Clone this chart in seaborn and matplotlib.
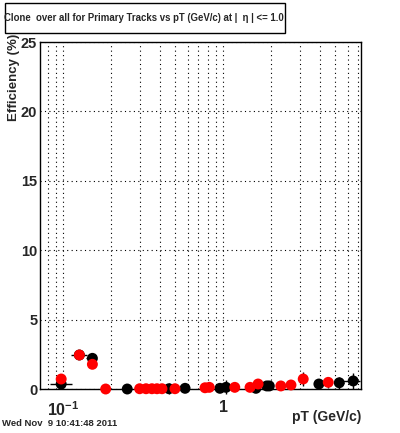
import numpy as np
import pandas as pd
import seaborn as sns
import matplotlib.pyplot as plt
from matplotlib.patches import Rectangle
from matplotlib.ticker import MultipleLocator, FixedLocator, NullFormatter

# black series (all tracks)
blk_x = [0.097, 0.126, 0.152, 0.251, 0.458, 0.577, 0.953, 1.04, 1.60, 1.87, 1.94, 3.96, 5.31, 6.49]
blk_y = [0.36, 2.45, 2.21, 0.0, 0.02, 0.05, 0.05, 0.12, 0.05, 0.22, 0.22, 0.36, 0.45, 0.58]
blk_yerr = [0.10, 0.10, 0.12, 0.0, 0.40, 0.05, 0.05, 0.50, 0.05, 0.10, 0.10, 0.38, 0.42, 0.60]
blk_xlo = [0.015, 0.015, 0.014, 0.0, 0.0, 0.0, 0.0, 0.0, 0.0, 0.0, 0.0, 0.25, 0.35, 0.9]
blk_xhi = [0.016, 0.015, 0.006, 0.0, 0.0, 0.0, 0.0, 0.0, 0.0, 0.0, 0.0, 0.25, 0.35, 0.7]

# red series
red_x = [0.097, 0.126, 0.152, 0.184, 0.30, 0.329, 0.358, 0.385, 0.414, 0.499,
         0.769, 0.818, 1.18, 1.47, 1.65, 2.29, 2.65, 3.16, 4.53]
red_y = [0.72, 2.45, 1.78, 0.0, 0.02, 0.02, 0.02, 0.02, 0.02, 0.02,
         0.09, 0.12, 0.12, 0.12, 0.36, 0.22, 0.29, 0.72, 0.48]
red_yerr = [0.15, 0.10, 0.12, 0.0, 0.0, 0.0, 0.0, 0.0, 0.0, 0.0,
            0.05, 0.05, 0.05, 0.05, 0.28, 0.10, 0.12, 0.47, 0.38]

x_ticks = [0.1, 1]
x_ticklabels = [r'$\mathbf{10^{-1}}$', '1']
y_ticks = [0, 5, 10, 15, 20, 25]

df = pd.concat([
    pd.DataFrame({'pt': blk_x, 'eff': blk_y, 'set': 'all'}),
    pd.DataFrame({'pt': red_x, 'eff': red_y, 'set': 'primary'}),
])

sns.set_style('white')
plt.rcParams['font.family'] = ['Liberation Sans', 'DejaVu Sans']
plt.rcParams['font.weight'] = 'bold'
plt.rcParams['mathtext.default'] = 'bf'
plt.rcParams['mathtext.fontset'] = 'custom'
plt.rcParams['mathtext.bf'] = 'Liberation Sans:bold'

fig = plt.figure(figsize=(4, 4.33), dpi=100)
ax = fig.add_axes([0.1, 0.1016, 0.8025, 0.8014])

ax.set_xscale('log')
ax.set_xlim(0.0715, 7.26)
ax.set_ylim(0, 25)

# error bars (drawn in black like the reference)
ax.errorbar(blk_x, blk_y, yerr=blk_yerr, xerr=[blk_xlo, blk_xhi], fmt='none',
            ecolor='black', elinewidth=1.0, capsize=0, clip_on=False, zorder=3)
ax.errorbar(red_x, red_y, yerr=red_yerr, fmt='none',
            ecolor='black', elinewidth=1.0, capsize=0, clip_on=False, zorder=3)

sns.scatterplot(data=df, x='pt', y='eff', hue='set', palette={'all': 'black', 'primary': '#ff0000'},
                s=62, edgecolor='none', legend=False, ax=ax, zorder=4)
for c in ax.collections:
    c.set_clip_on(False)

# grid
ax.xaxis.set_major_locator(FixedLocator(x_ticks))
ax.set_xticklabels(x_ticklabels)
minor = [0.08, 0.09] + [k / 10 for k in range(2, 10)] + list(range(2, 8))
ax.xaxis.set_minor_locator(FixedLocator(minor))
ax.xaxis.set_minor_formatter(NullFormatter())
ax.set_yticks(y_ticks)
ax.yaxis.set_minor_locator(MultipleLocator(1))
ax.grid(True, which='both', axis='x', linestyle=(0, (1, 3)), color='black', lw=0.8)
ax.grid(True, which='major', axis='y', linestyle=(0, (1, 3)), color='black', lw=0.8)

ax.tick_params(axis='both', which='major', direction='in', length=7, width=1,
               labelsize=10.5, color='black')
ax.tick_params(axis='both', which='minor', direction='in', length=3.5, width=1, color='black')
ax.tick_params(axis='x', which='major', pad=8, labelsize=11.5)
ax.tick_params(axis='y', which='major', pad=2)
for s in ax.spines.values():
    s.set_visible(True)
    s.set_color('black')
    s.set_linewidth(1.0)

ax.set_xlabel('')
ax.set_ylabel('')
fig.text(0.035, 0.822, 'Efficiency (%)', rotation=90, ha='center', va='center',
         fontsize=9.5, fontweight='bold')
fig.text(0.9025, 0.037, 'pT (GeV/c)', ha='right', va='center', fontsize=10, fontweight='bold')
fig.text(0.005, 0.021, 'Wed Nov  9 10:41:48 2011', ha='left', va='center',
         fontsize=6.8, fontweight='bold')

# title box
fig.patches.append(Rectangle((0.0125, 0.9238), 0.7, 0.0693, transform=fig.transFigure,
                             fill=False, edgecolor='black', lw=1.0))
fig.text(0.36, 0.958, 'Clone  over all for Primary Tracks vs pT (GeV/c) at |  \u03b7 | <= 1.0',
         ha='center', va='center', fontsize=6.9, fontweight='bold')

fig.savefig('out.png', dpi=100, facecolor='white')
